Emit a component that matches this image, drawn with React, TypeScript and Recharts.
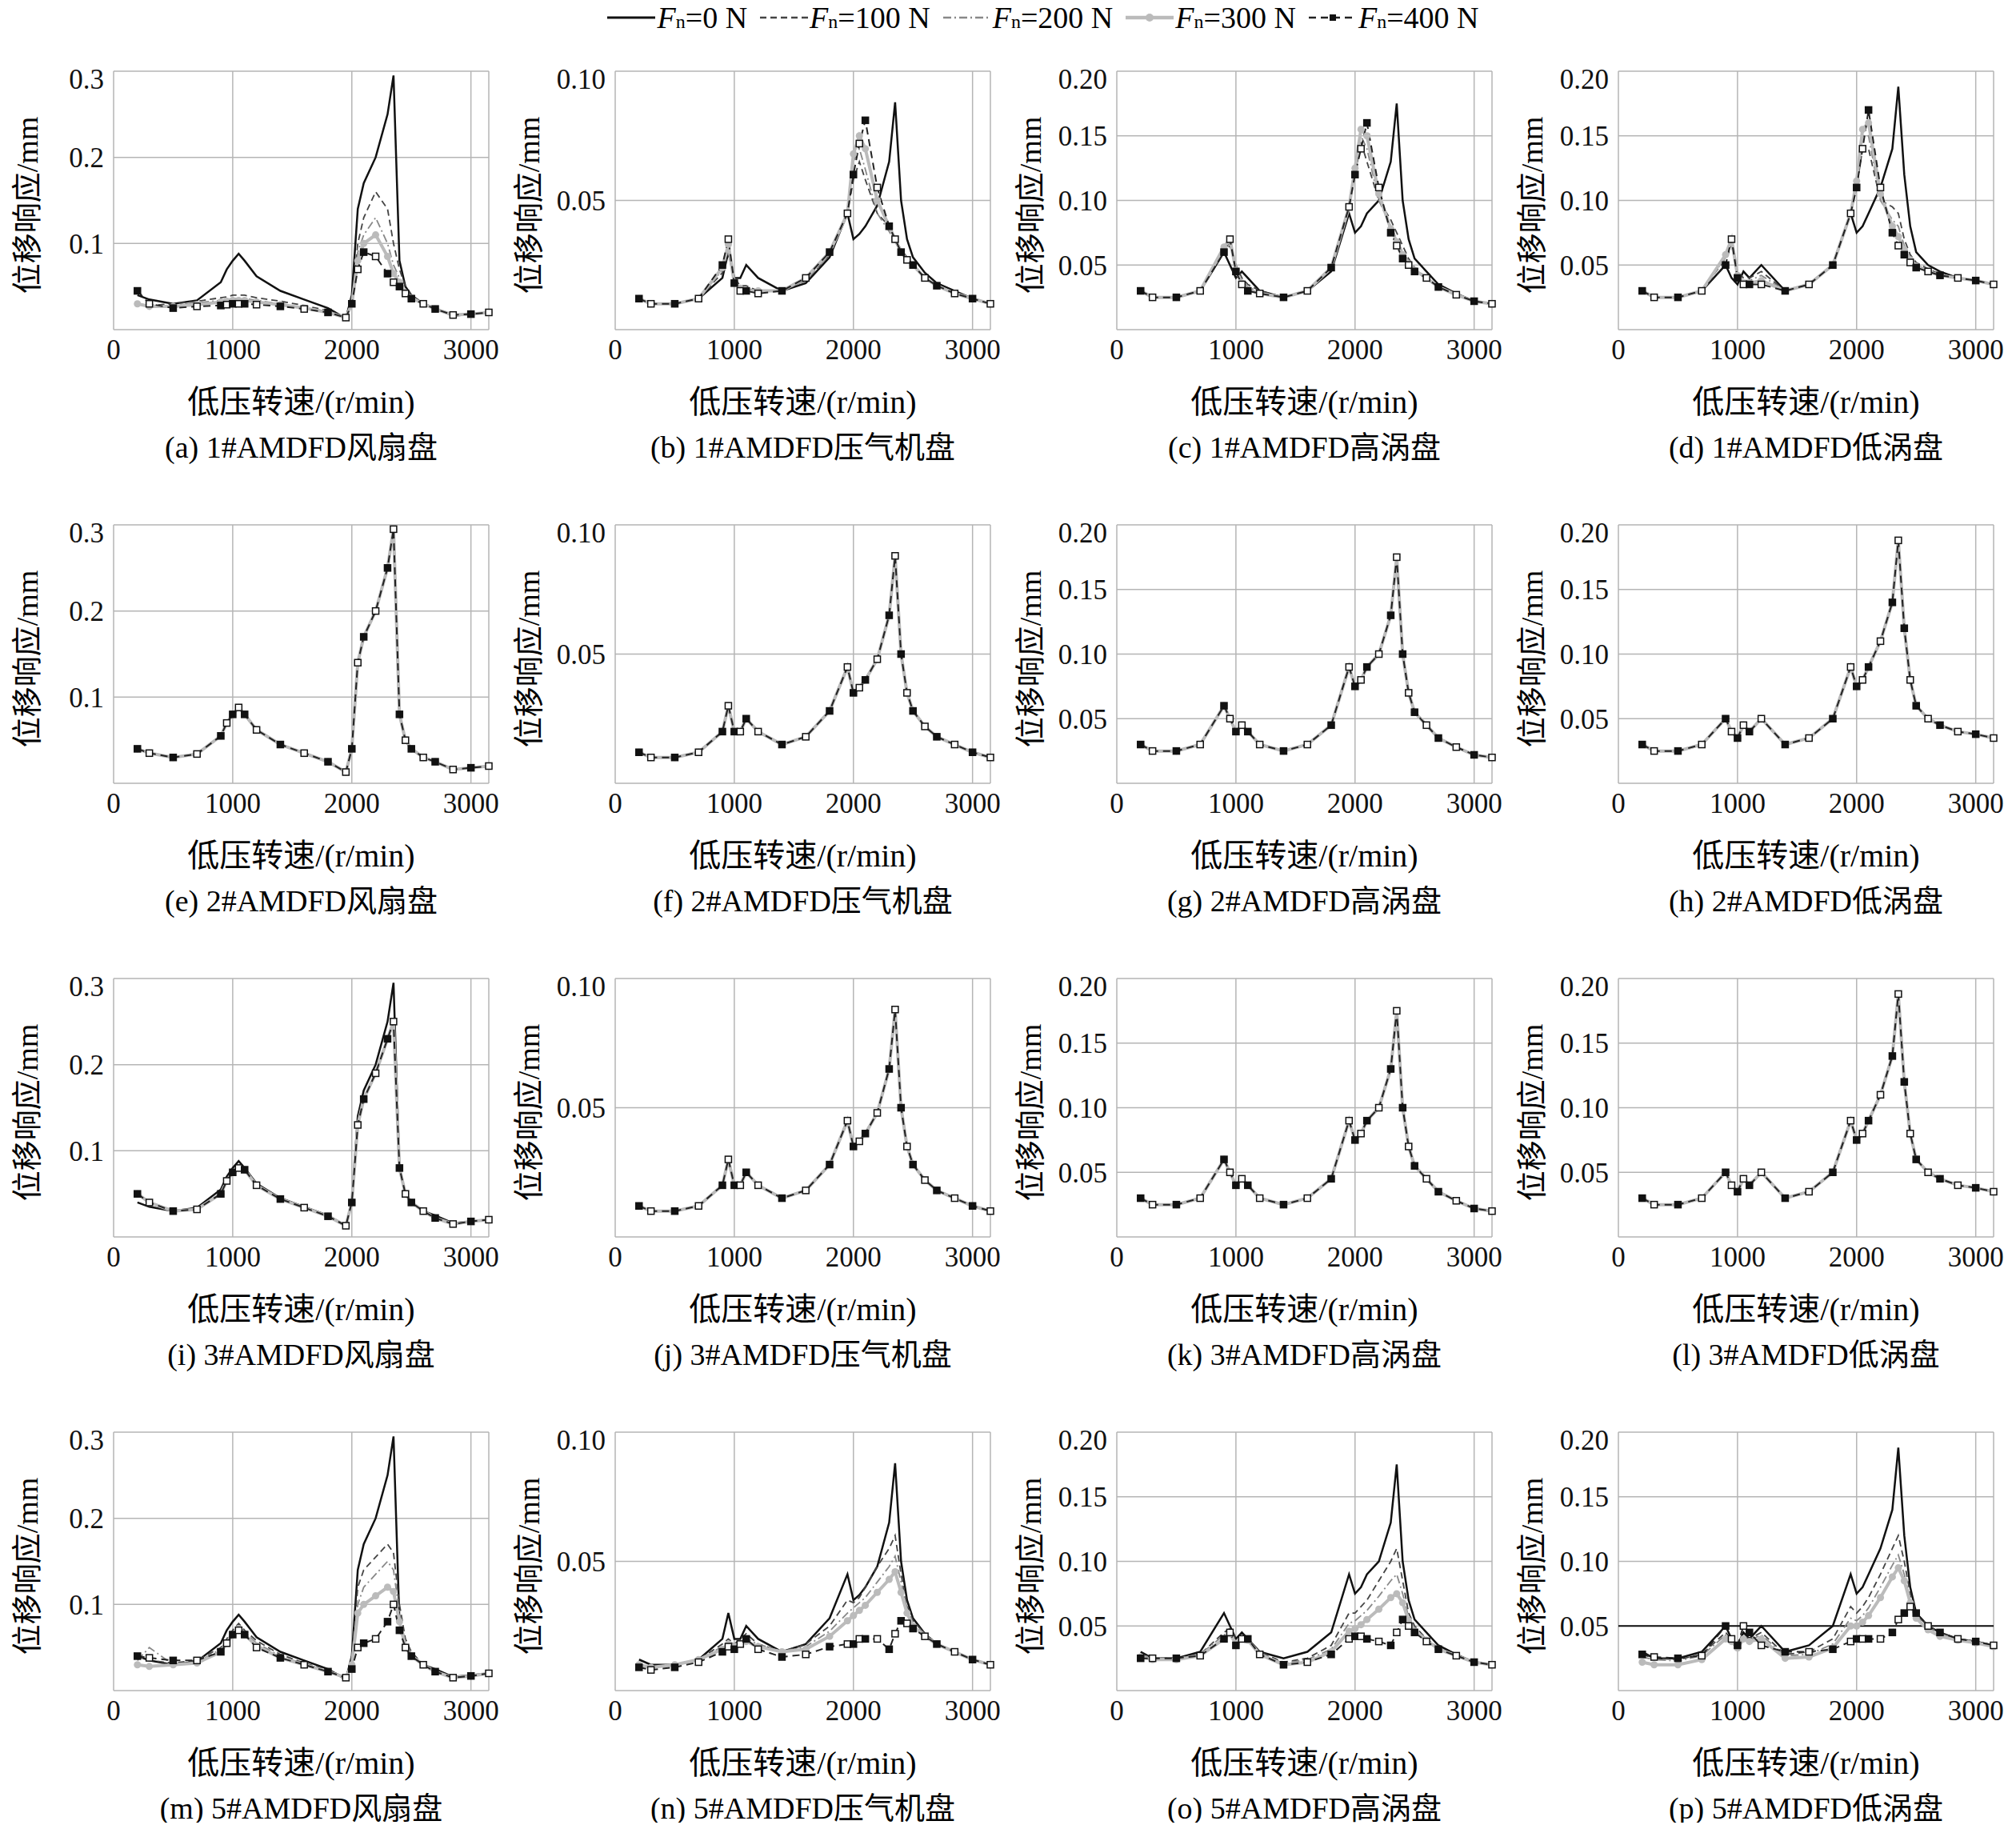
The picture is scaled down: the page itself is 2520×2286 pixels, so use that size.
import React from "react";
import { LineChart, Line, XAxis, YAxis, CartesianGrid, ReferenceLine } from "recharts";

const SPEED = [200, 300, 500, 700, 900, 950, 1000, 1050, 1100, 1200, 1400, 1600, 1800, 1950, 2000, 2050, 2100, 2200, 2300, 2350, 2400, 2450, 2500, 2600, 2700, 2850, 3000, 3150];

const FAN0 = [0.04, 0.035, 0.03, 0.034, 0.055, 0.07, 0.08, 0.088, 0.08, 0.062, 0.045, 0.035, 0.025, 0.013, 0.04, 0.14, 0.17, 0.2, 0.25, 0.295, 0.08, 0.05, 0.04, 0.03, 0.025, 0.016, 0.018, 0.02];
const FAN_A100 = [0.03, 0.028, 0.03, 0.033, 0.037, 0.038, 0.04, 0.04, 0.04, 0.037, 0.033, 0.028, 0.022, 0.014, 0.03, 0.1, 0.13, 0.16, 0.14, 0.1, 0.07, 0.05, 0.04, 0.03, 0.025, 0.017, 0.018, 0.02];
const FAN_A200 = [0.03, 0.027, 0.028, 0.031, 0.034, 0.035, 0.036, 0.036, 0.036, 0.034, 0.03, 0.026, 0.021, 0.014, 0.03, 0.09, 0.11, 0.13, 0.1, 0.075, 0.06, 0.045, 0.038, 0.03, 0.024, 0.017, 0.018, 0.02];
const FAN_A300 = [0.03, 0.027, 0.027, 0.029, 0.032, 0.033, 0.034, 0.034, 0.034, 0.032, 0.029, 0.025, 0.02, 0.014, 0.03, 0.08, 0.1, 0.11, 0.085, 0.065, 0.055, 0.043, 0.037, 0.03, 0.024, 0.017, 0.018, 0.02];
const FAN_A400 = [0.045, 0.03, 0.025, 0.027, 0.028, 0.029, 0.03, 0.03, 0.03, 0.029, 0.027, 0.024, 0.02, 0.014, 0.03, 0.07, 0.09, 0.085, 0.065, 0.055, 0.05, 0.042, 0.036, 0.03, 0.024, 0.017, 0.018, 0.02];
const FAN_I = [0.05, 0.04, 0.03, 0.032, 0.05, 0.065, 0.075, 0.08, 0.078, 0.06, 0.044, 0.034, 0.024, 0.013, 0.04, 0.13, 0.16, 0.19, 0.23, 0.25, 0.08, 0.05, 0.04, 0.03, 0.022, 0.015, 0.018, 0.02];
const FAN_M100 = [0.04, 0.035, 0.032, 0.035, 0.05, 0.06, 0.07, 0.078, 0.07, 0.058, 0.042, 0.032, 0.024, 0.015, 0.04, 0.12, 0.14, 0.155, 0.17, 0.16, 0.1, 0.06, 0.045, 0.03, 0.022, 0.015, 0.017, 0.02];
const FAN_M200 = [0.035, 0.05, 0.03, 0.033, 0.048, 0.058, 0.068, 0.075, 0.068, 0.055, 0.04, 0.031, 0.023, 0.015, 0.035, 0.1, 0.12, 0.135, 0.15, 0.14, 0.09, 0.055, 0.043, 0.03, 0.022, 0.015, 0.017, 0.02];
const FAN_M300 = [0.03, 0.028, 0.03, 0.032, 0.045, 0.055, 0.065, 0.072, 0.065, 0.052, 0.038, 0.03, 0.022, 0.015, 0.03, 0.09, 0.1, 0.11, 0.12, 0.115, 0.08, 0.05, 0.04, 0.03, 0.022, 0.015, 0.017, 0.02];
const FAN_M400 = [0.04, 0.038, 0.035, 0.035, 0.045, 0.055, 0.065, 0.07, 0.065, 0.05, 0.038, 0.03, 0.022, 0.015, 0.025, 0.05, 0.055, 0.06, 0.08, 0.1, 0.07, 0.05, 0.04, 0.03, 0.022, 0.015, 0.017, 0.02];

const COMP0 = [0.012, 0.01, 0.01, 0.012, 0.02, 0.03, 0.02, 0.02, 0.025, 0.02, 0.015, 0.018, 0.028, 0.045, 0.035, 0.037, 0.04, 0.048, 0.065, 0.088, 0.05, 0.035, 0.028, 0.022, 0.018, 0.015, 0.012, 0.01];
const COMP_B100 = [0.012, 0.01, 0.01, 0.012, 0.022, 0.03, 0.02, 0.017, 0.017, 0.015, 0.015, 0.019, 0.029, 0.045, 0.058, 0.065, 0.058, 0.045, 0.04, 0.035, 0.031, 0.028, 0.025, 0.02, 0.017, 0.014, 0.012, 0.01];
const COMP_B200 = [0.012, 0.01, 0.01, 0.012, 0.023, 0.032, 0.019, 0.016, 0.016, 0.015, 0.015, 0.019, 0.029, 0.045, 0.065, 0.07, 0.062, 0.045, 0.038, 0.034, 0.03, 0.027, 0.025, 0.02, 0.017, 0.014, 0.012, 0.01];
const COMP_B300 = [0.012, 0.01, 0.01, 0.012, 0.024, 0.033, 0.018, 0.016, 0.015, 0.015, 0.015, 0.02, 0.03, 0.045, 0.068, 0.075, 0.07, 0.05, 0.04, 0.035, 0.03, 0.027, 0.025, 0.02, 0.017, 0.014, 0.012, 0.01];
const COMP_B400 = [0.012, 0.01, 0.01, 0.012, 0.025, 0.035, 0.018, 0.015, 0.015, 0.014, 0.015, 0.02, 0.03, 0.045, 0.06, 0.072, 0.081, 0.055, 0.04, 0.035, 0.03, 0.027, 0.025, 0.02, 0.017, 0.014, 0.012, 0.01];
const COMP_N100 = [0.01, 0.009, 0.01, 0.012, 0.018, 0.02, 0.018, 0.02, 0.022, 0.018, 0.015, 0.018, 0.025, 0.035, 0.034, 0.036, 0.04, 0.048, 0.055, 0.06, 0.045, 0.033, 0.027, 0.022, 0.018, 0.015, 0.012, 0.01];
const COMP_N200 = [0.01, 0.009, 0.01, 0.012, 0.017, 0.019, 0.018, 0.019, 0.02, 0.018, 0.015, 0.017, 0.023, 0.03, 0.032, 0.034, 0.036, 0.042, 0.048, 0.052, 0.042, 0.032, 0.026, 0.022, 0.018, 0.015, 0.012, 0.01];
const COMP_N300 = [0.01, 0.009, 0.01, 0.012, 0.016, 0.018, 0.017, 0.018, 0.019, 0.017, 0.015, 0.016, 0.021, 0.027, 0.029, 0.031, 0.033, 0.038, 0.043, 0.046, 0.038, 0.03, 0.025, 0.021, 0.018, 0.015, 0.012, 0.01];
const COMP_N400 = [0.009, 0.008, 0.009, 0.011, 0.015, 0.017, 0.016, 0.018, 0.02, 0.016, 0.013, 0.014, 0.017, 0.018, 0.018, 0.02, 0.02, 0.02, 0.016, 0.022, 0.027, 0.026, 0.024, 0.021, 0.018, 0.015, 0.012, 0.01];

const HPT0 = [0.03, 0.025, 0.025, 0.03, 0.06, 0.05, 0.04, 0.045, 0.04, 0.03, 0.025, 0.03, 0.045, 0.09, 0.075, 0.08, 0.09, 0.1, 0.13, 0.175, 0.1, 0.07, 0.055, 0.045, 0.035, 0.028, 0.022, 0.02];
const HPT_C100 = [0.03, 0.025, 0.025, 0.03, 0.06, 0.065, 0.05, 0.04, 0.035, 0.03, 0.025, 0.03, 0.048, 0.095, 0.12, 0.145, 0.13, 0.1, 0.085, 0.075, 0.065, 0.055, 0.048, 0.04, 0.033, 0.027, 0.022, 0.02];
const HPT_C200 = [0.03, 0.025, 0.025, 0.03, 0.062, 0.067, 0.048, 0.038, 0.033, 0.029, 0.025, 0.03, 0.048, 0.095, 0.125, 0.15, 0.14, 0.1, 0.08, 0.07, 0.06, 0.053, 0.047, 0.04, 0.033, 0.027, 0.022, 0.02];
const HPT_C300 = [0.03, 0.025, 0.025, 0.03, 0.064, 0.07, 0.046, 0.036, 0.031, 0.028, 0.025, 0.03, 0.048, 0.095, 0.125, 0.155, 0.15, 0.105, 0.078, 0.068, 0.058, 0.051, 0.046, 0.04, 0.033, 0.027, 0.022, 0.02];
const HPT_C400 = [0.03, 0.025, 0.025, 0.03, 0.06, 0.07, 0.045, 0.035, 0.03, 0.028, 0.025, 0.03, 0.048, 0.095, 0.12, 0.14, 0.16, 0.11, 0.075, 0.065, 0.055, 0.05, 0.045, 0.04, 0.033, 0.027, 0.022, 0.02];
const HPT_O100 = [0.028, 0.025, 0.025, 0.028, 0.045, 0.048, 0.04, 0.042, 0.04, 0.03, 0.022, 0.025, 0.035, 0.06, 0.06, 0.065, 0.07, 0.085, 0.1, 0.11, 0.085, 0.06, 0.05, 0.04, 0.033, 0.027, 0.022, 0.02];
const HPT_O200 = [0.028, 0.025, 0.025, 0.028, 0.043, 0.046, 0.038, 0.041, 0.04, 0.029, 0.021, 0.024, 0.032, 0.052, 0.054, 0.058, 0.062, 0.073, 0.085, 0.09, 0.075, 0.057, 0.048, 0.04, 0.033, 0.027, 0.022, 0.02];
const HPT_O300 = [0.026, 0.024, 0.024, 0.027, 0.04, 0.044, 0.036, 0.04, 0.039, 0.028, 0.02, 0.022, 0.03, 0.046, 0.048, 0.051, 0.055, 0.063, 0.072, 0.075, 0.068, 0.054, 0.046, 0.039, 0.032, 0.027, 0.022, 0.02];
const HPT_O400 = [0.025, 0.025, 0.025, 0.027, 0.04, 0.045, 0.035, 0.04, 0.04, 0.028, 0.02, 0.022, 0.028, 0.04, 0.042, 0.042, 0.04, 0.038, 0.035, 0.045, 0.055, 0.05, 0.045, 0.038, 0.032, 0.027, 0.022, 0.02];

const LPT0 = [0.03, 0.025, 0.025, 0.03, 0.05, 0.04, 0.035, 0.045, 0.04, 0.05, 0.03, 0.035, 0.05, 0.09, 0.075, 0.08, 0.09, 0.11, 0.14, 0.188, 0.12, 0.08, 0.06, 0.05, 0.045, 0.04, 0.038, 0.035];
const LPT_D100 = [0.03, 0.025, 0.025, 0.03, 0.055, 0.065, 0.045, 0.04, 0.04, 0.045, 0.03, 0.035, 0.05, 0.09, 0.11, 0.14, 0.14, 0.1, 0.095, 0.09, 0.07, 0.058, 0.052, 0.047, 0.043, 0.04, 0.038, 0.035];
const LPT_D200 = [0.03, 0.025, 0.025, 0.03, 0.056, 0.067, 0.043, 0.038, 0.038, 0.042, 0.03, 0.035, 0.05, 0.09, 0.115, 0.15, 0.15, 0.1, 0.085, 0.08, 0.065, 0.056, 0.05, 0.046, 0.042, 0.04, 0.038, 0.035];
const LPT_D300 = [0.03, 0.025, 0.025, 0.03, 0.058, 0.07, 0.042, 0.036, 0.036, 0.038, 0.03, 0.035, 0.05, 0.09, 0.115, 0.155, 0.16, 0.105, 0.08, 0.072, 0.062, 0.054, 0.049, 0.045, 0.042, 0.04, 0.038, 0.035];
const LPT_D400 = [0.03, 0.025, 0.025, 0.03, 0.05, 0.07, 0.04, 0.035, 0.035, 0.035, 0.03, 0.035, 0.05, 0.09, 0.11, 0.14, 0.17, 0.11, 0.075, 0.065, 0.058, 0.052, 0.048, 0.045, 0.042, 0.04, 0.038, 0.035];
const LPT_P100 = [0.028, 0.025, 0.024, 0.028, 0.045, 0.04, 0.035, 0.042, 0.04, 0.045, 0.028, 0.03, 0.04, 0.065, 0.06, 0.065, 0.072, 0.09, 0.11, 0.12, 0.1, 0.075, 0.06, 0.05, 0.045, 0.04, 0.038, 0.035];
const LPT_P200 = [0.026, 0.024, 0.023, 0.027, 0.043, 0.039, 0.034, 0.041, 0.039, 0.043, 0.027, 0.028, 0.036, 0.056, 0.054, 0.058, 0.064, 0.08, 0.097, 0.105, 0.09, 0.07, 0.058, 0.049, 0.044, 0.04, 0.038, 0.035];
const LPT_P300 = [0.022, 0.02, 0.02, 0.024, 0.04, 0.038, 0.033, 0.04, 0.038, 0.04, 0.025, 0.026, 0.033, 0.05, 0.05, 0.053, 0.058, 0.072, 0.088, 0.095, 0.085, 0.068, 0.056, 0.047, 0.042, 0.039, 0.037, 0.034];
const LPT_P400 = [0.028, 0.026, 0.025, 0.027, 0.05, 0.04, 0.035, 0.05, 0.045, 0.035, 0.03, 0.03, 0.032, 0.038, 0.04, 0.04, 0.04, 0.04, 0.045, 0.055, 0.06, 0.065, 0.06, 0.05, 0.045, 0.04, 0.038, 0.035];

const FORCES = ["0", "100", "200", "300", "400"];
const DISCS = ["风扇盘", "压气机盘", "高涡盘", "低涡盘"];
const UNITS = ["1#", "2#", "3#", "5#"];
const LETTERS = "abcdefghijklmnop".split("");

const AXES = [
  { max: 0.3, ticks: [0.1, 0.2, 0.3], fmt: (v: number) => v.toFixed(1) },
  { max: 0.1, ticks: [0.05, 0.1], fmt: (v: number) => v.toFixed(2) },
  { max: 0.2, ticks: [0.05, 0.1, 0.15, 0.2], fmt: (v: number) => v.toFixed(2) },
  { max: 0.2, ticks: [0.05, 0.1, 0.15, 0.2], fmt: (v: number) => v.toFixed(2) },
];

// panel series, row by row: [Fn=0, 100, 200, 300, 400]
const PANELS: number[][][] = [
  [FAN0, FAN_A100, FAN_A200, FAN_A300, FAN_A400],
  [COMP0, COMP_B100, COMP_B200, COMP_B300, COMP_B400],
  [HPT0, HPT_C100, HPT_C200, HPT_C300, HPT_C400],
  [LPT0, LPT_D100, LPT_D200, LPT_D300, LPT_D400],
  [FAN0, FAN0, FAN0, FAN0, FAN0],
  [COMP0, COMP0, COMP0, COMP0, COMP0],
  [HPT0, HPT0, HPT0, HPT0, HPT0],
  [LPT0, LPT0, LPT0, LPT0, LPT0],
  [FAN0, FAN_I, FAN_I, FAN_I, FAN_I],
  [COMP0, COMP0, COMP0, COMP0, COMP0],
  [HPT0, HPT0, HPT0, HPT0, HPT0],
  [LPT0, LPT0, LPT0, LPT0, LPT0],
  [FAN0, FAN_M100, FAN_M200, FAN_M300, FAN_M400],
  [COMP0, COMP_N100, COMP_N200, COMP_N300, COMP_N400],
  [HPT0, HPT_O100, HPT_O200, HPT_O300, HPT_O400],
  [LPT0, LPT_P100, LPT_P200, LPT_P300, LPT_P400],
];

const STYLES = [
  { stroke: "#111", width: 2.5, dash: undefined },
  { stroke: "#444", width: 1.8, dash: "8 5" },
  { stroke: "#888", width: 1.8, dash: "10 4 2 4" },
  { stroke: "#bbb", width: 4, dash: undefined },
  { stroke: "#222", width: 2, dash: "9 6" },
];

const FONT = "'Liberation Serif', 'Noto Sans CJK SC', serif";
const COL_W = 627;
const ROW_H = 567;
const PLOT_L = 142;
const PLOT_T = 89;
const PLOT_W = 469;
const PLOT_H = 323;

const circleDot = (p: any) => <circle key={p.index} cx={p.cx} cy={p.cy} r={4.5} fill="#bbb" />;
const squareDot = (p: any) => (
  <rect key={p.index} x={p.cx - 4} y={p.cy - 4} width={8} height={8} fill={p.index % 2 ? "#fff" : "#111"} stroke="#111" strokeWidth={1.5} />
);

function Panel({ idx }: { idx: number }) {
  const row = Math.floor(idx / 4);
  const col = idx % 4;
  const axis = AXES[col];
  const series = PANELS[idx];
  const data = SPEED.map((s, i) => {
    const o: any = { speed: s };
    series.forEach((arr, k) => (o["f" + k] = arr[i]));
    return o;
  });
  const left = col * COL_W;
  const top = row * ROW_H;
  return (
    <>
      <div style={{ position: "absolute", left: left + 10, top: top + PLOT_T - 10 }}>
        <LineChart width={PLOT_W + 132 + 20} height={PLOT_H + 60} data={data} margin={{ top: 10, right: 20, left: 0, bottom: 0 }}>
          <CartesianGrid stroke="#b5b5b5" strokeWidth={1.5} />
          <XAxis dataKey="speed" type="number" domain={[0, 3150]} ticks={[0, 1000, 2000, 3000]} height={50}
            tick={{ fontSize: 35, fill: "#111", fontFamily: FONT }} tickLine={false} axisLine={false} tickMargin={6} />
          <YAxis type="number" domain={[0, axis.max]} ticks={axis.ticks} width={132} tickFormatter={axis.fmt}
            tick={{ fontSize: 35, fill: "#111", fontFamily: FONT }} tickLine={false} axisLine={false} tickMargin={6} />
          {idx === 15 && <ReferenceLine y={0.05} stroke="#111" strokeWidth={2} />}
          {FORCES.map((f, k) => (
            <Line key={f} dataKey={"f" + k} type="linear" stroke={STYLES[k].stroke} strokeWidth={STYLES[k].width}
              strokeDasharray={STYLES[k].dash} isAnimationActive={false}
              dot={k === 3 ? circleDot : k === 4 ? squareDot : false} />
          ))}
        </LineChart>
      </div>
      <div style={{ position: "absolute", left: left + 30 - 150, top: top + PLOT_T + PLOT_H / 2 - 22, width: 300, textAlign: "center", transform: "rotate(-90deg)", fontSize: 38, fontFamily: FONT }}>
        位移响应/mm
      </div>
      <div style={{ position: "absolute", left: left + PLOT_L, top: top + 470, width: PLOT_W, textAlign: "center", fontSize: 40, fontFamily: FONT }}>
        低压转速/(r/min)
      </div>
      <div style={{ position: "absolute", left: left + PLOT_L - 40, top: top + 528, width: PLOT_W + 80, textAlign: "center", fontSize: 38, fontFamily: FONT }}>
        ({LETTERS[idx]}) {UNITS[row]}AMDFD{DISCS[col]}
      </div>
    </>
  );
}

function LegendItem({ k }: { k: number }) {
  const s = STYLES[k];
  return (
    <span style={{ display: "inline-flex", alignItems: "baseline", marginRight: 14 }}>
      <svg width={64} height={20} style={{ alignSelf: "center" }}>
        <line x1={2} y1={10} x2={62} y2={10} stroke={s.stroke} strokeWidth={s.width + 0.5} strokeDasharray={s.dash} />
        {k === 3 && <circle cx={32} cy={10} r={5} fill="#bbb" />}
        {k === 4 && <rect x={28} y={6} width={8} height={8} fill="#111" />}
      </svg>
      <i>F</i><sub style={{ fontSize: 24 }}>n</sub>={FORCES[k]} N
    </span>
  );
}

export default function App() {
  return (
    <div style={{ position: "relative", width: 2520, height: 2286, margin: -8, background: "#fff", fontFamily: FONT }}>
      <div style={{ position: "absolute", left: 660, top: 0, width: 1300, textAlign: "center", fontSize: 38, whiteSpace: "nowrap" }}>
        {FORCES.map((_, k) => <LegendItem key={k} k={k} />)}
      </div>
      {PANELS.map((_, i) => <Panel key={i} idx={i} />)}
    </div>
  );
}
